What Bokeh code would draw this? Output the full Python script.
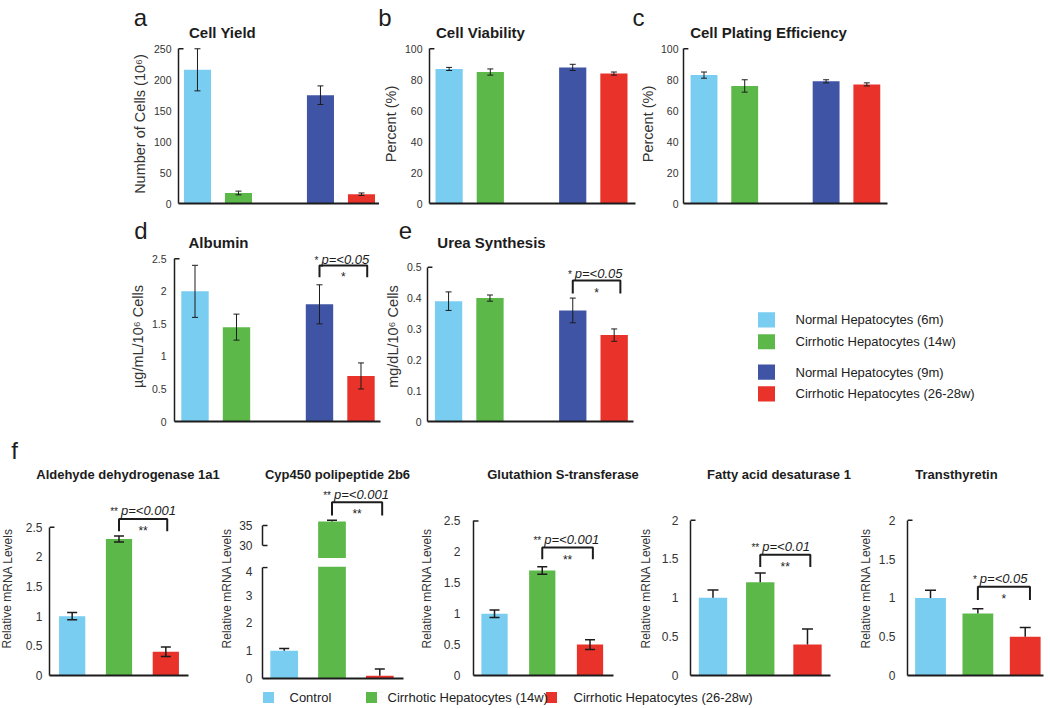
from bokeh.plotting import figure
from bokeh.models import (Range1d, ColumnDataSource, Whisker, TeeHead, FixedTicker,
                          NumeralTickFormatter, Spacer)
from bokeh.layouts import row, column
from bokeh.embed import file_html
from bokeh.resources import INLINE
from bokeh.core.properties import value

# ---------------- data ----------------
groups4 = ["Normal Hepatocytes (6m)", "Cirrhotic Hepatocytes (14w)",
           "Normal Hepatocytes (9m)", "Cirrhotic Hepatocytes (26-28w)"]
colors4 = ["#78CDF0", "#5DB84A", "#3F54A5", "#E8322A"]
pos4 = [0, 1, 3, 4]

cell_yield = [216, 17, 175, 15]
cell_yield_err = [34, 3, 15, 2]
viability = [87, 85, 88, 84]
viability_err = [1, 2, 2, 1]
plating = [83, 76, 79, 77]
plating_err = [2, 4, 1, 1]
albumin = [2.0, 1.45, 1.8, 0.7]
albumin_err = [0.4, 0.2, 0.3, 0.2]
urea = [0.39, 0.40, 0.36, 0.28]
urea_err = [0.03, 0.01, 0.04, 0.02]

groups3 = ["Control", "Cirrhotic Hepatocytes (14w)", "Cirrhotic Hepatocytes (26-28w)"]
colors3 = ["#78CDF0", "#5DB84A", "#E8322A"]
pos3 = [0, 1, 2]
aldh = [1.0, 2.3, 0.4]
aldh_err = [0.06, 0.05, 0.08]
cyp = [1.0, 36.0, 0.1]
cyp_err = [0.08, 0.3, 0.24]
gst = [1.0, 1.7, 0.5]
gst_err = [0.06, 0.06, 0.08]
fads = [1.0, 1.2, 0.4]
fads_err = [0.1, 0.12, 0.2]
ttr = [1.0, 0.8, 0.5]
ttr_err = [0.1, 0.06, 0.12]

top_titles = ["Cell Yield", "Cell Viability", "Cell Plating Efficiency"]
mid_titles = ["Albumin", "Urea Synthesis"]
gene_titles = ["Aldehyde dehydrogenase 1a1", "Cyp450 polipeptide 2b6",
               "Glutathion S-transferase", "Fatty acid desaturase 1", "Transthyretin"]
letters = ["a", "b", "c", "d", "e", "f"]
y_labels = ["Number of Cells (10⁶)", "Percent (%)", "Percent (%)",
            "µg/mL/10⁶ Cells", "mg/dL/10⁶ Cells", "Relative mRNA Levels"]

ticks_yield = [0, 50, 100, 150, 200, 250]
ticks_pct = [0, 20, 40, 60, 80, 100]
ticks_alb = [0, 0.5, 1, 1.5, 2, 2.5]
ticks_urea = [0, 0.1, 0.2, 0.3, 0.4, 0.5]
ticks_25 = [0, 0.5, 1, 1.5, 2, 2.5]
ticks_2 = [0, 0.5, 1, 1.5, 2]
ticks_cyp_low = [0, 1, 2, 3, 4]
ticks_cyp_high = [30, 35]

# significance: (left bar, right bar, stars, p text, bracket top, leg end)
sig_d = (2, 3, "*", "p=<0.05", 2.397, 2.217)
sig_e = (2, 3, "*", "p=<0.05", 0.457, 0.415)
sig_f1 = (1, 2, "**", "p=<0.001", 2.64, 2.43)
sig_f2 = (1, 2, "**", "p=<0.001", 40.8, 37.5)
sig_f3 = (1, 2, "**", "p=<0.001", 2.07, 1.88)
sig_f4 = (1, 2, "**", "p=<0.01", 1.554, 1.397)
sig_f5 = (1, 2, "*", "p=<0.05", 1.145, 0.974)

# ---------------- style ----------------
FONT = "Liberation Sans"
INK = "#1c1c1c"
TICK = "#333333"


def base_fig(w, h, border, xr, yr, x_axis=True, y_axis=True):
    l, r, t, b = border
    p = figure(width=w, height=h, x_range=Range1d(*xr), y_range=Range1d(*yr),
               output_backend="svg", toolbar_location=None, title=None,
               x_axis_type="linear" if x_axis else None,
               y_axis_type="linear" if y_axis else None,
               min_border_left=l, min_border_right=r,
               min_border_top=t, min_border_bottom=b)
    p.outline_line_color = None
    p.grid.visible = False
    p.background_fill_color = "white"
    p.border_fill_color = "white"
    if x_axis:
        ax = p.xaxis[0]
        ax.ticker = FixedTicker(ticks=[])
        ax.major_label_text_font_size = "0px"
        ax.major_tick_line_color = None
        ax.minor_tick_line_color = None
        ax.major_label_standoff = 0
        ax.axis_line_width = 2
        ax.axis_line_color = INK
    return p


def band(w, h):
    p = figure(width=w, height=h, x_range=Range1d(0, w), y_range=Range1d(h, 0),
               output_backend="svg", toolbar_location=None, title=None,
               x_axis_type=None, y_axis_type=None, min_border=0)
    p.outline_line_color = None
    p.background_fill_color = "white"
    p.border_fill_color = "white"
    return p


def style_y(p, ticks, bounds, tsize, standoff, label=None, lsize="14px", lstand=3,
            hooks=("top",)):
    ax = p.yaxis[0]
    ax.ticker = FixedTicker(ticks=ticks)
    ax.formatter = NumeralTickFormatter(format="0.[0]")
    ax.bounds = bounds
    ax.major_tick_in = 0
    ax.major_tick_out = 0
    ax.minor_tick_line_color = None
    ax.axis_line_width = 1.5
    ax.axis_line_color = INK
    ax.major_label_text_font = FONT
    ax.major_label_text_font_size = tsize
    ax.major_label_text_color = TICK
    ax.major_label_standoff = standoff
    if label:
        ax.axis_label = label
        ax.axis_label_text_font = FONT
        ax.axis_label_text_font_size = lsize
        ax.axis_label_text_font_style = "normal"
        ax.axis_label_text_color = TICK
        ax.axis_label_standoff = lstand
    # small hook(s) on the axis ends, pointing into the plot
    fw = p.width - p.min_border_left - p.min_border_right
    x0 = p.x_range.start
    hook = 5 * (p.x_range.end - x0) / fw
    ys = []
    if "top" in hooks:
        ys.append(bounds[1])
    if "bottom" in hooks:
        ys.append(bounds[0])
    p.segment(x0=[x0] * len(ys), x1=[x0 + hook] * len(ys), y0=ys, y1=ys,
              line_width=1.5, line_color=INK)


def add_bars(p, pos, vals, errs, colors, bar_w, two_sided, lw, cap):
    p.vbar(x=pos, top=vals, width=bar_w, fill_color=colors, line_color=None)
    lo, hi = p.y_range.start, p.y_range.end
    idx = [i for i, v in enumerate(vals) if lo <= v <= hi]
    src = ColumnDataSource(dict(
        x=[pos[i] for i in idx],
        upper=[vals[i] + errs[i] for i in idx],
        lower=[(vals[i] - errs[i]) if two_sided else vals[i] for i in idx]))
    w = Whisker(source=src, base="x", upper="upper", lower="lower",
                line_width=lw, line_color=INK, level="overlay",
                upper_head=TeeHead(size=cap, line_width=lw, line_color=INK),
                lower_head=TeeHead(size=cap, line_width=lw, line_color=INK) if two_sided else None)
    p.add_layout(w)


def add_sig(p, pos, spec, dx, p_off=-8, p_size="13px", star_size="10px", mid_size="12px"):
    i, j, stars, ptxt, y_top, y_leg = spec
    xl = pos[i]
    xr = pos[j] + dx
    p.line(x=[xl, xl, xr, xr], y=[y_leg, y_top, y_top, y_leg], line_width=2,
           line_color=INK)
    p.text(x=[xl], y=[y_top], text=[ptxt], x_offset=2, y_offset=p_off,
           text_font=value(FONT), text_font_style="italic", text_font_size=p_size,
           text_baseline="middle", text_align="left", text_color=INK)
    p.text(x=[xl], y=[y_top], text=[stars], x_offset=-1, y_offset=p_off + 1,
           text_font=value(FONT), text_font_size=star_size,
           text_baseline="middle", text_align="right", text_color=INK)
    p.text(x=[(xl + xr) / 2], y=[y_top], text=[stars], y_offset=12,
           text_font=value(FONT), text_font_size=mid_size,
           text_baseline="middle", text_align="center", text_color=INK)


def texts(p, xs, ys, txt, size, style="normal", align="center", baseline="middle",
          angle=0.0, color=INK):
    p.text(x=xs, y=ys, text=txt, text_font=value(FONT), text_font_size=size,
           text_font_style=style, text_align=align, text_baseline=baseline,
           angle=angle, text_color=color)


W = 1050
TS_AE = "10.5px"
TS_F = "12px"

# ---------------- row 1 header (y 0..41) ----------------
h1 = band(W, 41)
texts(h1, [140, 384.5, 638], [17, 17, 17], letters[0:3], "24px")
texts(h1, [222, 480, 768], [31.5, 31.5, 31.5], top_titles, "15px", style="bold")

# ---------------- row 1 plots (y 41..212) ----------------
fa = base_fig(379, 171, (178, 0, 3, 9), (-0.463, 4.44), (0, 256.9))
style_y(fa, ticks_yield, (0, 250), TS_AE, 7, y_labels[0], "14.5px", 3)
add_bars(fa, pos4, cell_yield, cell_yield_err, colors4, 0.66, True, 1, 6)

fb = base_fig(257, 171, (46, 1, 3, 9), (-0.476, 4.524), (0, 102.8))
style_y(fb, ticks_pct, (0, 100), TS_AE, 7, y_labels[1], "14.5px", 3)
add_bars(fb, pos4, viability, viability_err, colors4, 0.66, True, 1, 6)

fc = base_fig(414, 171, (42, 163, 3, 9), (-0.504, 4.508), (0, 102.8))
style_y(fc, ticks_pct, (0, 100), TS_AE, 5, y_labels[2], "14.5px", 2)
add_bars(fc, pos4, plating, plating_err, colors4, 0.66, True, 1, 6)

# ---------------- row 2 header (y 212..251) ----------------
h2 = band(W, 39)
texts(h2, [140.5, 405], [18, 18], letters[3:5], "24px")
texts(h2, [218, 491], [30, 30], mid_titles, "15px", style="bold")

# ---------------- row 2 plots (y 251..430) ----------------
fd = base_fig(381, 179, (174, 1, 0, 9), (-0.494, 4.47), (0, 2.612))
style_y(fd, ticks_alb, (0, 2.5), TS_AE, 8, y_labels[3], "14.5px", 3)
add_bars(fd, pos4, albumin, albumin_err, colors4, 0.66, True, 1, 6)
add_sig(fd, pos4, sig_d, 0.15, p_off=-6)

fe = base_fig(255, 179, (42, 3, 0, 9), (-0.509, 4.467), (0, 0.551))
style_y(fe, ticks_urea, (0, 0.5), TS_AE, 6, y_labels[4], "14.5px", 3)
add_bars(fe, pos4, urea, urea_err, colors4, 0.66, True, 1, 6)
add_sig(fe, pos4, sig_e, 0.15, p_off=-7)

leg = band(414, 179)
leg_rows = [72, 95, 127, 150]
leg.rect(x=[130] * 4, y=leg_rows, width=17, height=16, fill_color=colors4, line_color=None)
texts(leg, [159] * 4, leg_rows, groups4, "13px", align="left", color="#222222")

# ---------------- row 3 header (y 430..482) ----------------
h3 = band(W, 52)
texts(h3, [14], [20], [letters[5]], "24px")
texts(h3, [127.5, 337, 562.5, 778.5, 956], [43.5] * 5, gene_titles, "13px", style="bold")

# ---------------- row 3 plots (y 482..686) ----------------
H3P = 204


def ylab(w, x):
    p = band(w, H3P)
    texts(p, [x], [111], [y_labels[5]], "12px", angle=1.5707963, color=TICK)
    return p

f1l = ylab(22, 7)
f1 = base_fig(183, H3P, (25, 17, 2, 11), (-0.484, 2.484), (0, 3.22))
style_y(f1, ticks_25, (0, 2.5), TS_F, 7)
add_bars(f1, pos3, aldh, aldh_err, colors3, 0.56, True, 1.5, 10)
add_sig(f1, pos3, sig_f1, 0.03)

f2l = ylab(28, 21.5)
f2u = base_fig(182, 76, (29, 12, 2, 0), (-0.454, 2.496), (26.75, 45.25), x_axis=False)
style_y(f2u, ticks_cyp_high, (30, 35), TS_F, 10, hooks=("top", "bottom"))
add_bars(f2u, pos3, cyp, cyp_err, colors3, 0.58, False, 1.5, 10)
add_sig(f2u, pos3, sig_f2, 0.05)
f2d = base_fig(182, H3P - 84, (29, 12, 0, 8), (-0.454, 2.496), (0, 4.036))
style_y(f2d, ticks_cyp_low, (0, 4), TS_F, 10)
add_bars(f2d, pos3, cyp, cyp_err, colors3, 0.58, False, 1.5, 10)
f2 = column(f2u, Spacer(width=182, height=8), f2d)

f3l = ylab(19, 11.5)
f3 = base_fig(191, H3P, (39, 12, 2, 10), (-0.44, 2.492), (0, 3.09))
style_y(f3, ticks_25, (0, 2.5), TS_F, 13)
add_bars(f3, pos3, gst, gst_err, colors3, 0.55, True, 1.5, 10)
add_sig(f3, pos3, sig_f3, 0.06)

f4l = ylab(27, 20)
f4 = base_fig(193, H3P, (38, 15, 2, 9), (-0.476, 2.487), (0, 2.459))
style_y(f4, ticks_2, (0, 2), TS_F, 12)
add_bars(f4, pos3, fads, fads_err, colors3, 0.6, False, 1.5, 11)
add_sig(f4, pos3, sig_f4, 0.06)

f5l = ylab(27, 20)
f5 = base_fig(178, H3P, (35, 7, 2, 10), (-0.486, 2.386), (0, 2.4615))
style_y(f5, ticks_2, (0, 2), TS_F, 12)
add_bars(f5, pos3, ttr, ttr_err, colors3, 0.65, False, 1.5, 11)
add_sig(f5, pos3, sig_f5, 0.1)

# ---------------- bottom legend (y 686..708) ----------------
l3 = band(W, 22)
l3.rect(x=[268, 371, 551], y=[11] * 3, width=11, height=11, fill_color=colors3, line_color=None)
texts(l3, [289, 387, 573], [10.5] * 3, groups3, "13px", align="left", color="#222222")

layout = column(
    h1,
    row(fa, fb, fc),
    h2,
    row(fd, fe, leg),
    h3,
    row(f1l, f1, f2l, f2, f3l, f3, f4l, f4, f5l, f5),
    l3,
)

open("out.html", "w").write(file_html(layout, INLINE, "Hepatocyte figure"))
